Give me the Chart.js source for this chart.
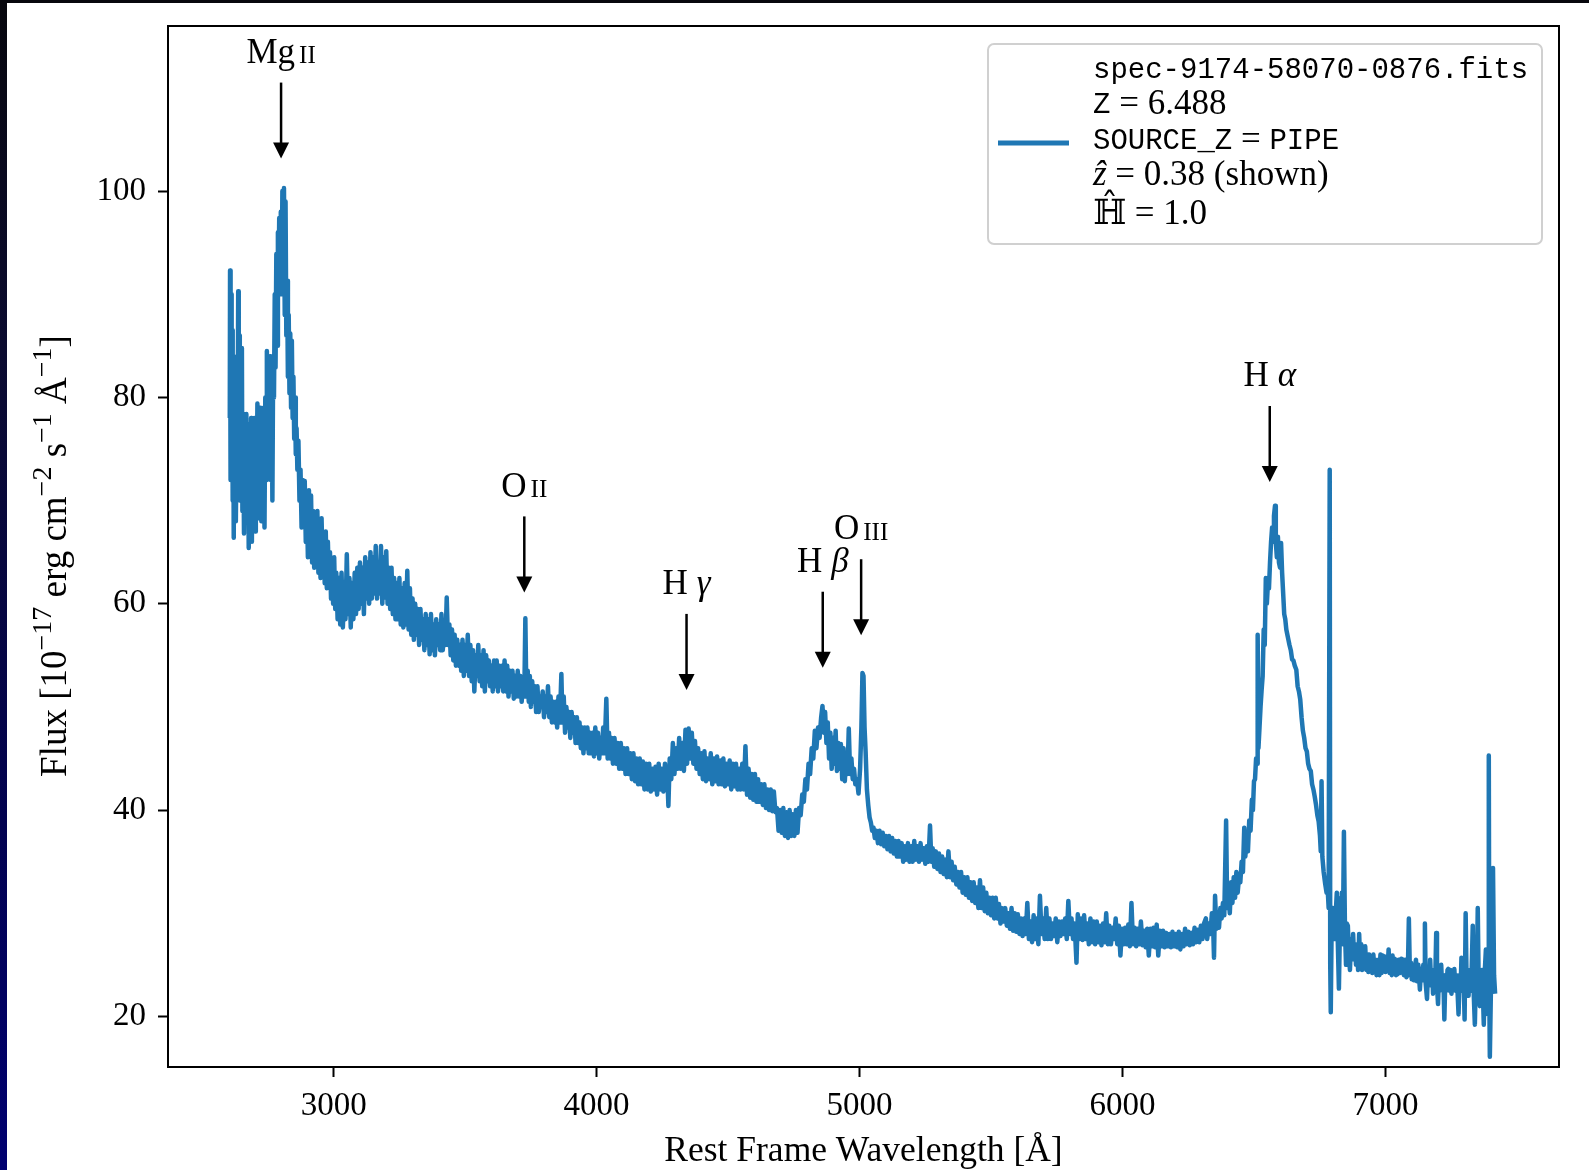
<!DOCTYPE html>
<html>
<head>
<meta charset="utf-8">
<script src="https://cdn.jsdelivr.net/npm/chart.js@4.4.1/dist/chart.umd.min.js"></script>
<style>
  html, body { margin: 0; padding: 0; }
  body {
    width: 1589px; height: 1170px; position: relative; overflow: hidden;
    background: linear-gradient(to bottom, #07070d 0%, #0b0b30 30%, #020250 70%, #000070 100%);
  }
  #paper { position: absolute; left: 7px; top: 3px; right: 0; bottom: 0; background: #ffffff; }
  #spec { position: absolute; left: 0; top: 0; }
</style>
</head>
<body>
<div id="paper"></div>
<canvas id="spec" width="1589" height="1170"></canvas>
<script>
// rest frame wavelength [A] and flux
var wavelength = [
  2605,2606,2608,2610,2612,2614,2616,2618,2620,2622,2624,2626,2628,2631,2634,2637,2639,2641,2643,2645,
  2648,2651,2653,2656,2659,2662,2665,2668,2671,2674,2677,2680,2683,2686,2689,2692,2695,2698,2701,2704,
  2707,2710,2713,2716,2719,2722,2725,2728,2731,2734,2737,2740,2743,2746,2749,2752,2755,2758,2761,2764,
  2767,2770,2773,2776,2779,2782,2785,2788,2790,2793,2796,2799,2802,2805,2808,2811,2814,2817,2820,2823,
  2826,2829,2832,2835,2838,2841,2844,2847,2850,2853,2856,2859,2862,2866,2870,2874,2878,2882,2886,2890,
  2894,2898,2902,2906,2910,2914,2918,2922,2926,2930,2934,2938,2942,2946,2950,2954,2958,2962,2966,2970,
  2974,2978,2982,2986,2990,2994,2998,3002,3006,3010,3015,3020,3025,3030,3035,3040,3045,3050,3055,3060,
  3065,3070,3075,3080,3085,3090,3095,3100,3105,3110,3115,3120,3125,3130,3135,3140,3145,3150,3155,3160,
  3165,3170,3175,3180,3185,3190,3195,3200,3205,3210,3215,3220,3225,3230,3235,3240,3245,3250,3255,3260,
  3265,3270,3275,3280,3285,3290,3295,3300,3305,3310,3315,3320,3325,3330,3335,3340,3345,3350,3355,3360,
  3365,3370,3375,3380,3385,3390,3395,3400,3405,3410,3415,3420,3425,3430,3435,3440,3445,3450,3455,3460,
  3465,3470,3475,3480,3485,3490,3495,3500,3505,3510,3515,3520,3525,3530,3535,3540,3545,3550,3555,3560,
  3565,3570,3575,3580,3585,3590,3595,3600,3605,3610,3615,3620,3625,3630,3635,3640,3645,3650,3655,3660,
  3665,3670,3675,3680,3685,3690,3695,3700,3705,3710,3715,3720,3725,3729,3733,3738,3742,3746,3750,3755,
  3760,3765,3770,3775,3780,3785,3790,3795,3800,3805,3810,3815,3820,3825,3830,3835,3840,3845,3850,3855,
  3860,3866,3870,3875,3880,3885,3890,3895,3900,3905,3910,3915,3920,3925,3930,3935,3940,3945,3950,3955,
  3960,3965,3970,3975,3980,3985,3990,3995,4000,4005,4010,4015,4020,4025,4030,4037,4042,4047,4052,4057,
  4062,4068,4074,4080,4086,4092,4098,4104,4110,4116,4122,4128,4134,4140,4146,4152,4158,4164,4170,4176,
  4182,4188,4194,4200,4206,4212,4218,4224,4230,4236,4242,4248,4254,4260,4264,4268,4273,4278,4284,4290,
  4296,4302,4308,4314,4320,4326,4332,4338,4344,4350,4356,4362,4368,4374,4380,4386,4392,4398,4404,4410,
  4416,4422,4428,4434,4440,4446,4452,4458,4464,4470,4476,4482,4488,4494,4500,4506,4512,4518,4524,4530,
  4536,4542,4548,4554,4560,4566,4572,4578,4584,4590,4596,4602,4608,4614,4620,4626,4632,4638,4644,4650,
  4656,4662,4668,4674,4680,4686,4692,4698,4704,4710,4716,4722,4728,4734,4740,4746,4752,4758,4764,4770,
  4776,4782,4788,4794,4800,4806,4812,4818,4824,4830,4836,4842,4848,4854,4859,4864,4869,4874,4879,4884,
  4889,4894,4899,4904,4909,4914,4919,4924,4929,4934,4939,4944,4949,4954,4959,4964,4969,4974,4979,4984,
  4990,4996,5002,5007,5011,5015,5019,5023,5028,5033,5038,5043,5048,5053,5058,5064,5070,5076,5082,5088,
  5094,5100,5106,5112,5118,5124,5130,5136,5142,5148,5154,5160,5166,5172,5178,5184,5190,5196,5202,5208,
  5214,5220,5226,5232,5238,5244,5250,5256,5262,5268,5273,5278,5284,5290,5296,5302,5308,5314,5320,5326,
  5332,5338,5344,5350,5356,5362,5368,5374,5380,5386,5392,5398,5404,5410,5416,5422,5428,5434,5440,5446,
  5452,5458,5464,5470,5476,5482,5488,5494,5500,5506,5512,5518,5524,5530,5536,5542,5548,5554,5560,5566,
  5572,5578,5584,5590,5596,5602,5608,5614,5620,5626,5632,5638,5644,5650,5656,5662,5668,5674,5680,5686,
  5692,5698,5704,5710,5716,5722,5728,5734,5740,5746,5752,5758,5764,5770,5776,5782,5788,5794,5800,5806,
  5812,5818,5825,5830,5836,5842,5848,5854,5860,5866,5872,5878,5884,5890,5896,5902,5908,5914,5920,5926,
  5932,5938,5944,5950,5956,5962,5968,5974,5980,5986,5992,5998,6004,6010,6016,6022,6028,6034,6040,6046,
  6052,6058,6064,6070,6076,6082,6088,6094,6100,6106,6112,6118,6124,6130,6136,6142,6148,6154,6160,6166,
  6172,6178,6184,6190,6196,6202,6208,6214,6220,6226,6232,6238,6244,6250,6256,6262,6268,6274,6280,6286,
  6292,6298,6304,6310,6317,6322,6328,6334,6340,6345,6348,6352,6357,6362,6367,6372,6377,6382,6387,6394,
  6398,6403,6408,6413,6418,6423,6428,6433,6438,6443,6448,6453,6458,6463,6467,6472,6477,6482,6487,6492,
  6496,6500,6504,6508,6512,6514,6517,6521,6525,6529,6533,6537,6541,6545,6549,6553,6557,6561,6565,6569,
  6573,6576,6580,6583,6587,6591,6595,6599,6603,6607,6611,6615,6619,6623,6627,6631,6635,6640,6645,6650,
  6655,6661,6666,6671,6676,6681,6686,6691,6696,6701,6706,6711,6716,6721,6726,6731,6736,6741,6746,6751,
  6754,6757,6760,6765,6770,6776,6780,6784,6788,6790,6792,6795,6800,6804,6807,6811,6815,6819,6823,6827,
  6831,6834,6838,6842,6846,6850,6853,6857,6861,6865,6869,6873,6877,6881,6885,6888,6892,6896,6900,6904,
  6908,6911,6915,6919,6923,6927,6931,6935,6938,6942,6946,6950,6954,6958,6962,6966,6969,6973,6977,6981,
  6985,6989,6993,6997,7000,7004,7008,7012,7016,7020,7024,7027,7031,7035,7040,7046,7050,7055,7060,7066,
  7070,7075,7080,7085,7089,7093,7097,7100,7104,7108,7112,7116,7120,7125,7131,7135,7140,7144,7147,7150,
  7153,7158,7162,7166,7170,7174,7178,7181,7185,7189,7193,7196,7200,7204,7208,7212,7216,7220,7224,7228,
  7232,7236,7239,7243,7247,7251,7255,7258,7262,7266,7270,7274,7278,7282,7286,7289,7293,7297,7301,7305,
  7309,7313,7316,7320,7324,7328,7332,7336,7340,7344,7347,7351,7355,7359,7363,7367,7371,7374,7378,7382,
  7386,7390,7393,7395,7397,7401,7405,7409,7413,7417
];
var flux = [
  78,92.3,72,90,74,86.5,70,84,66.4,80,73,82,68,76,70,90.3,74,86,70,80,
  72,84.8,69,78.4,66.8,76,70,78.4,68,77.4,65.4,76,69,78,66,77,70,78,67,77.5,
  70,79.4,68.3,78,70,79,68,78.6,71,79,67.4,80,72,84.5,74.5,82.3,76,84,72,83,
  70,84,80,90,82.9,93.9,85,96,90,97.4,92,98,90,100,92,100.3,88,99,86,91.3,
  82,88,80.4,86.2,79,85.5,78,82,76,80,74.5,77,73,75.8,70,73,67.4,72,68,71.9,
  66,70,64.5,71,65,70.5,64,69,63.5,68.5,64.5,69,63,67,62.5,68.3,63.5,66.8,62,67,
  61.5,66,62,65,60.5,64,60,64.5,59.5,63,58.5,62.5,58,63,57.7,62,58.5,64.8,59,62.5,
  57.7,62,58.5,63,59,63.5,59.5,64,60,63.5,59,64.5,60.5,64,60,65,60.5,64.5,61,65.6,
  60.5,64,61,65.6,60,64.5,60.6,65.1,60,63.5,59.5,63.5,59,62.5,58.5,62,58.5,62.5,58,61.5,
  57.7,62,58,63.2,57.5,61.5,57,60.5,56.5,60,57,59.5,56,59.5,56.5,58.5,55.5,59,56,58.5,
  55.1,59,55.5,58,55,58.5,56,58,55.5,59,55.5,57.5,56,60.6,56,58,55,57.5,54.5,57,
  54,56.5,54,56,53.5,56.5,53,56,53.5,57,53,56,52.5,55.5,51.5,55,53,56,52.5,55,
  52,55.5,51.5,55,52.5,54.5,52,54,51.5,54.5,52,54.5,51.5,54,52,54,51.5,54.5,51.5,54,
  51,53.5,51.5,53.5,50.8,53,51,53.5,51,53,50.5,52.5,51,58.6,51,53.5,50.5,53,50,52.5,
  50.5,52,49.5,52,49.5,51,50,51.5,49,51,49.5,52,49,51,48.5,50.5,48.5,50.5,48,51,
  48.5,53.2,48.5,51,47.5,50,48,49.5,47,49.5,47.5,49,46.5,49,46.5,48.5,46,48,45.5,48,
  46,48,45.5,47.5,45.5,47.5,45.2,48,45.5,47.5,45,47,45.5,48,45.5,50.8,45,47.5,45,47,
  44.5,47,44.5,46.5,44,46.5,44,46,43.5,46,43.5,45.5,43,45.5,42.8,45,42.5,45,42.5,44.7,
  42,44.5,42,44.5,41.8,44,42,44.2,41.5,44.5,42,44,41.8,44.5,42,44,40.4,45,43,46.5,
  43.5,46,44,47,44,46.5,43.8,47.8,44.5,47.9,45,47.5,44.5,46.7,44,46,43.5,45.5,43,45.7,
  42.8,45,43,45.5,42.5,45,42.8,45.2,42.5,44.8,42.5,45,42.3,44.5,42.5,44.8,42,44.5,42.3,44.5,
  42,44,42,44.5,42,46.2,41.5,44,41.2,43.5,41,43.5,40.8,43,40.8,42.5,40.5,42.5,40.2,42,
  40,42,39.9,41.8,39.8,40.2,38,40,37.8,40.2,37.5,39.8,37.3,40,37.5,39.6,37.5,40,37.8,40.2,
  39.5,41.5,40.8,43,42,44.5,43.5,46,45,47.7,46,48,47,49,50.1,47.5,49.5,46.5,48.5,45,
  47.5,44,47,44.5,47.7,43.8,46.5,44,46.4,43,46,42.8,45.5,43.5,47.9,43.5,45,43,44,42.5,
  43,41.6,44,48,53.3,53,48,45.7,42,40.5,39.3,38.8,38,38.3,37.3,38,36.8,38,36.7,37.8,
  36.5,37.5,36.2,37.5,36,37.3,35.8,37,35.5,37,35.5,36.8,35,36.5,35.2,36.8,35,36.5,35,37,
  35.2,36.5,35,36.8,35.2,36.3,34.8,36.5,35,38.5,35,36.3,34.5,36,34.3,35.8,34,35.5,33.8,35.2,
  33.5,36,33.5,35,33.2,34.5,32.8,34,32.5,34,32,33.5,31.8,33.5,31.5,33,31.2,33,31,32.5,
  30.5,33.2,30.5,32.5,30.2,32,30,31.5,29.8,31.5,29.5,31.5,29.5,30.9,29,30.5,29.2,30.5,28.8,30,
  28.5,30.5,28.3,30,28.2,29.9,28,29.5,27.8,29.5,28,31,27.5,29.2,27.2,29.8,27.5,29.5,27,31.7,
  28,29.5,27.5,30.5,27.5,29.5,27.5,29,27.8,29.5,27.2,29.2,27.8,29.2,28,29.5,27.5,31.2,28,29.5,
  27.5,29,25.2,29.9,27.5,29.5,27.4,29.8,27.5,29,27,29.5,27.2,29.2,27,29.2,27.2,28.8,26.9,29,
  27.2,30,27,28.8,27,28.6,27.5,29.5,27,28.8,25.9,28.5,27,28.6,27,28.9,26.8,31,27,28.6,
  26.8,28.5,27,29.2,26.9,28.3,26.7,28.5,25.9,28.5,26.8,28.6,26.7,28.9,25.9,28.3,26.8,28.3,26.7,28.1,
  26.8,28,26.7,28.2,26.8,28,26.7,28.2,26.5,28,26.8,28.5,27,28.2,26.9,28.1,27,28.6,27.2,28.4,
  27.2,28.8,27.5,29,29.5,27.5,29,28,30,28.5,25.7,31.7,28.5,30,28.6,30.5,29.5,31,29.8,39,
  30.5,32,30,33,31,33.5,31.5,34,32,33.5,33,35,34,38.3,35.5,37,36,39,38,41,
  40,42.8,43,45,44.5,57,46,48,50,51.6,53,57.5,56,62.5,60,62,61.5,64,66,67.4,
  66,68.5,69.5,66,64.5,66.5,64,63.5,65.9,63,61,59,58.5,57.5,57,56.5,56,55.5,54.6,54.5,
  54,53.6,52,51.5,50.7,49,47.7,47,46,45.7,44.5,44,43.8,42.5,42,41.3,40.5,39.5,38.9,37.5,
  36,42.8,35.5,34,33,32,32.5,30.5,73,25,20.4,28,30.5,28,27.5,30,32,27,22.7,29,
  31.5,32,27,37.9,28.5,25,29,28.8,26,24.5,27.5,26,28,25.5,27,25,26.5,24.5,28,25,
  27,24.5,26.5,24.8,26.8,24.5,26,24.3,26,24.5,25.8,24.2,26,24.5,25.5,24,24.1,25.5,24,26,
  24.2,25.9,24.5,25.8,24.3,25.5,24.5,26.5,24.2,25.5,24,25.9,24.3,25.6,24,24.1,25.5,24.2,25.6,25.5,
  24,25.5,23.8,24.1,29.5,24,25.2,23.6,25,23.5,24.8,25.5,23.4,25,22.6,24.6,23.5,25,24.5,29,
  23.2,21.7,24.5,23,25.5,23,24.5,22.2,24.5,23,28.1,23,21.2,24.5,22.8,25,22.5,24,19.7,24,
  22.5,24.5,24.6,22.5,24.5,22.2,24,23,24.6,22.5,24,22.5,20.2,24,22.8,25.7,22.5,24,19.7,30,
  22.5,24.5,22,24.5,22.5,24.6,28.8,22,19.2,24,22.5,30.5,22.2,21,24,24.5,22,19.2,24.5,26.5,
  22,20.2,45.3,22,16.1,22.5,24.2,34.4,24,22.2
];

var xTicks = [3000, 4000, 5000, 6000, 7000];
var yTicks = [20, 40, 60, 80, 100];

// emission line markers: element, ion, wavelength, flux at arrow tip
var lineElement = ['Mg', 'O', 'H', 'H', 'O', 'H'];
var lineIon = ['II', 'II', 'γ', 'β', 'III', 'α'];
var lineWave = [2800, 3725, 4342, 4860, 5006, 6560];
var lineTip = [103.15, 61.1, 51.65, 53.8, 56.95, 71.8];

var blue = '#1f77b4';
var serif = '"Liberation Serif", "DejaVu Serif", serif';
var mono = '"Liberation Mono", "DejaVu Sans Mono", monospace';

var legendRows = [
  [['spec-9174-58070-0876.fits', 'm']],
  [['Z', 'm'], [' = 6.488', 's']],
  [['SOURCE_Z', 'm'], [' = ', 's'], ['PIPE', 'm']],
  [['\u1E91', 'i'], [' = 0.38 (shown)', 's']],
  [['\u210D\u0302', 's'], [' = 1.0', 's']]
];

var points = [];
for (var i = 0; i < wavelength.length; i++) {
  points.push({ x: wavelength[i], y: flux[i] });
}

function runFont(kind, size) {
  if (kind == 'm') return '29px ' + mono;
  if (kind == 'i') return 'italic ' + size + 'px ' + serif;
  return size + 'px ' + serif;
}

function drawRuns(ctx, x, y, runs, size) {
  for (var k = 0; k < runs.length; k++) {
    ctx.font = runFont(runs[k][1], size);
    ctx.fillText(runs[k][0], x, y);
    x += ctx.measureText(runs[k][0]).width;
  }
}

var decorations = {
  id: 'decorations',
  afterDraw: function(chart) {
    var ctx = chart.ctx;
    var area = chart.chartArea;
    var xs = chart.scales.x, ys = chart.scales.y;
    ctx.save();

    // frame
    ctx.strokeStyle = '#000';
    ctx.lineWidth = 2;
    ctx.strokeRect(area.left, area.top, area.right - area.left, area.bottom - area.top);

    // line markers
    ctx.fillStyle = '#000';
    ctx.textBaseline = 'middle';
    for (var i = 0; i < lineWave.length; i++) {
      var px = xs.getPixelForValue(lineWave[i]);
      var tip = ys.getPixelForValue(lineTip[i]);
      var top = tip - 76;
      ctx.lineWidth = 2.5;
      ctx.beginPath();
      ctx.moveTo(px, top);
      ctx.lineTo(px, tip - 14);
      ctx.stroke();
      ctx.beginPath();
      ctx.moveTo(px - 8, tip - 16);
      ctx.lineTo(px + 8, tip - 16);
      ctx.lineTo(px, tip);
      ctx.closePath();
      ctx.fill();

      var greek = !/^I+$/.test(lineIon[i]);
      var f1 = '35px ' + serif;
      var f2 = greek ? 'italic 35px ' + serif : '25px ' + serif;
      var gap = greek ? 9 : 4;
      ctx.font = f1;
      var w1 = ctx.measureText(lineElement[i]).width;
      ctx.font = f2;
      var w2 = ctx.measureText(lineIon[i]).width;
      var sx = px - (w1 + gap + w2) / 2;
      var ly = top - 29;
      ctx.textAlign = 'left';
      ctx.font = f1;
      ctx.fillText(lineElement[i], sx, ly);
      ctx.font = f2;
      ctx.fillText(lineIon[i], sx + w1 + gap, greek ? ly : ly + 3);
    }

    // legend
    var bx = area.right - 17 - 554, by = area.top + 18, bw = 554, bh = 200;
    ctx.beginPath();
    ctx.roundRect(bx, by, bw, bh, 6);
    ctx.fillStyle = 'rgba(255,255,255,0.8)';
    ctx.fill();
    ctx.strokeStyle = '#d0d0d0';
    ctx.lineWidth = 2;
    ctx.stroke();
    ctx.strokeStyle = blue;
    ctx.lineWidth = 5;
    ctx.beginPath();
    ctx.moveTo(bx + 10, by + 99);
    ctx.lineTo(bx + 81, by + 99);
    ctx.stroke();
    ctx.fillStyle = '#000';
    var rowY = [26, 61, 97, 132, 171];
    for (var r = 0; r < legendRows.length; r++) {
      drawRuns(ctx, bx + 105, by + rowY[r], legendRows[r], 35);
    }

    // axis titles
    ctx.textAlign = 'left';
    ctx.textBaseline = 'middle';
    ctx.font = '35.5px ' + serif;
    var xt = 'Rest Frame Wavelength [Å]';
    var xw = ctx.measureText(xt).width;
    ctx.fillText(xt, (area.left + area.right) / 2 - xw / 2, 1152);

    var yRuns = [['Flux [10', 0], ['\u221217', 1], [' erg cm', 0], ['\u22122', 1], [' s', 0],
                 ['\u22121', 1], [' Å', 0], ['\u22121', 1], [']', 0]];
    var total = 0;
    for (var k = 0; k < yRuns.length; k++) {
      ctx.font = (yRuns[k][1] ? '28px ' : '37px ') + serif;
      total += ctx.measureText(yRuns[k][0]).width;
    }
    ctx.translate(56, 556);
    ctx.rotate(-Math.PI / 2);
    var cx = -total / 2;
    for (var k = 0; k < yRuns.length; k++) {
      ctx.font = (yRuns[k][1] ? '28px ' : '37px ') + serif;
      ctx.fillText(yRuns[k][0], cx, yRuns[k][1] ? -12 : 0);
      cx += ctx.measureText(yRuns[k][0]).width;
    }
    ctx.restore();
  }
};

var ctx = document.getElementById('spec').getContext('2d');
var chart = new Chart(ctx, {
  type: 'line',
  data: {
    datasets: [{
      data: points,
      borderColor: blue,
      borderWidth: 4.5,
      pointRadius: 0,
      tension: 0,
      borderJoinStyle: 'round',
      fill: false
    }]
  },
  options: {
    responsive: false,
    animation: false,
    devicePixelRatio: 1,
    parsing: false,
    layout: { padding: { left: 68, right: 30, top: 26, bottom: 43 } },
    plugins: { legend: { display: false }, tooltip: { enabled: false } },
    scales: {
      x: {
        type: 'linear', min: 2370, max: 7660,
        afterBuildTicks: function(axis) { axis.ticks = xTicks.map(function(v) { return { value: v }; }); },
        afterFit: function(axis) { axis.height = 60; axis.paddingLeft = 0; axis.paddingRight = 0; },
        ticks: { color: '#000', font: { family: serif, size: 33 }, padding: 10, maxRotation: 0,
                 callback: function(v) { return String(v); } },
        grid: { drawOnChartArea: false, drawTicks: true, tickLength: 10, tickWidth: 2, color: '#000' },
        border: { display: false }
      },
      y: {
        type: 'linear', min: 15.1, max: 116,
        afterBuildTicks: function(axis) { axis.ticks = yTicks.map(function(v) { return { value: v }; }); },
        afterFit: function(axis) { axis.width = 100; axis.paddingTop = 0; axis.paddingBottom = 0; },
        ticks: { color: '#000', font: { family: serif, size: 33 }, padding: 12,
                 callback: function(v) { return String(v); } },
        grid: { drawOnChartArea: false, drawTicks: true, tickLength: 10, tickWidth: 2, color: '#000' },
        border: { display: false }
      }
    }
  },
  plugins: [decorations]
});
</script>
</body>
</html>
